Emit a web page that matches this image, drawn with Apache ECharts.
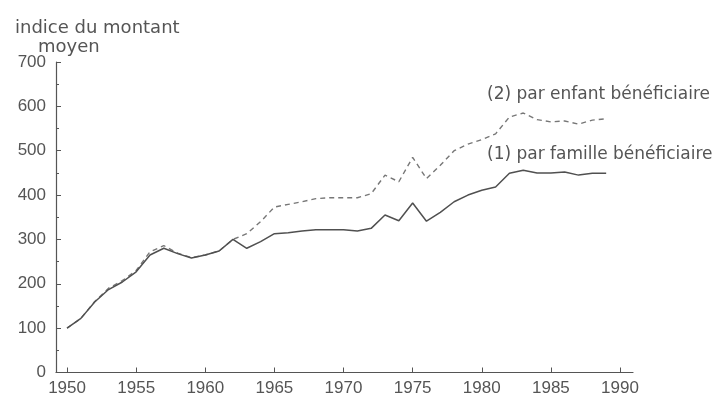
<!DOCTYPE html>
<html>
<head>
<meta charset="utf-8">
<script src="https://cdn.jsdelivr.net/npm/echarts@6/dist/echarts.min.js"></script>
<style>
  html, body { margin: 0; padding: 0; background: #fff; }
  #chart { width: 722px; height: 401px; }
</style>
</head>
<body>
<div id="chart"></div>
<script>
// années 1950 -> 1989
const years = [];
for (let y = 1950; y <= 1989; y++) years.push(y);

// (1) par famille bénéficiaire
const parFamille = [100, 122, 159, 187, 204, 227, 265, 280, 268, 258,
  265, 274, 300, 280, 295, 313, 315, 319, 322, 322,
  322, 319, 325, 355, 342, 382, 341, 361, 385, 400,
  411, 418, 449, 456, 450, 450, 452, 445, 449, 449];

// (2) par enfant bénéficiaire
const parEnfant = [100, 122, 160, 190, 207, 230, 272, 286, 269, 259,
  265, 274, 300, 313, 340, 373, 379, 385, 392, 394,
  394, 394, 403, 445, 430, 485, 437, 467, 500, 515,
  525, 538, 576, 585, 570, 565, 567, 560, 569, 572];

const xTicks = [1950, 1955, 1960, 1965, 1970, 1975, 1980, 1985, 1990];

const textColor = "#555";
const font = "Liberation Sans";
const labelFont = "DejaVu Sans";

const chart = echarts.init(document.getElementById("chart"));
const option = {
  animation: false,
  backgroundColor: "#fff",
  title: [
    {
      text: "indice du montant",
      left: 10, top: 14,
      textStyle: { fontSize: 18, fontWeight: "normal", color: textColor, fontFamily: labelFont },
    },
    {
      text: "moyen",
      left: 33, top: 33,
      textStyle: { fontSize: 18, fontWeight: "normal", color: textColor, fontFamily: labelFont },
    },
  ],
  graphic: [
    {
      type: "text", left: 487, top: 86,
      style: { text: "(2) par enfant bénéficiaire", fontSize: 17, fill: textColor, fontFamily: labelFont },
    },
    {
      type: "text", left: 487, top: 146,
      style: { text: "(1) par famille bénéficiaire", fontSize: 17, fill: textColor, fontFamily: labelFont },
    },
  ],
  grid: { left: 56, right: 89, top: 62, bottom: 28.5 },
  xAxis: {
    type: "value",
    min: 1949.2,
    max: 1990.94,
    splitLine: { show: false },
    axisLine: { lineStyle: { color: "#555", width: 1.2 } },
    axisTick: { inside: true, length: 5, customValues: xTicks, lineStyle: { color: "#555" } },
    axisLabel: {
      customValues: xTicks,
      formatter: (v) => String(v),
      margin: 7,
      fontSize: 17,
      color: textColor,
      fontFamily: font,
    },
  },
  yAxis: {
    type: "value",
    min: 0,
    max: 700,
    interval: 100,
    splitLine: { show: false },
    axisLine: { show: true, lineStyle: { color: "#555", width: 1.2 } },
    axisTick: { show: true, inside: true, length: 5, lineStyle: { color: "#555" } },
    minorTick: { show: true, splitNumber: 2, length: 3, lineStyle: { color: "#555" } },
    axisLabel: { margin: 10, fontSize: 17, color: textColor, fontFamily: font },
  },
  series: [
    {
      name: "(2) par enfant bénéficiaire",
      type: "line",
      data: years.map((y, i) => [y, parEnfant[i]]),
      symbol: "none",
      lineStyle: { color: "#777", width: 1.4, type: [5, 4] },
    },
    {
      name: "(1) par famille bénéficiaire",
      type: "line",
      data: years.map((y, i) => [y, parFamille[i]]),
      symbol: "none",
      lineStyle: { color: "#505050", width: 1.5 },
    },
  ],
};
chart.setOption(option);
</script>
</body>
</html>
